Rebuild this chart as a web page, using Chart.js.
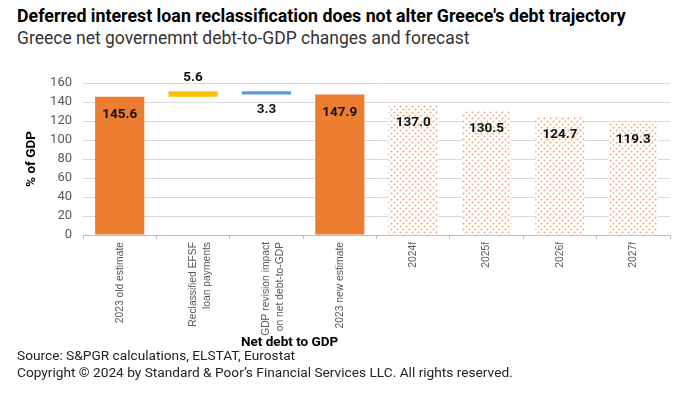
<!DOCTYPE html>
<html>
<head>
<meta charset="utf-8">
<script src="https://cdn.jsdelivr.net/npm/chart.js@4.4.1/dist/chart.umd.min.js"></script>
<style>
  body { margin: 0; background: #fff; font-family: Roboto, "Liberation Sans", sans-serif; }
  #wrap { position: relative; width: 685px; height: 399px; }
  .title { position: absolute; left: 17px; top: 5px; font-size: 17.8px; font-weight: bold; color: #000; white-space: nowrap; }
  .sub { position: absolute; left: 17px; top: 28px; font-size: 17.5px; color: #333; white-space: nowrap; }
  .foot { position: absolute; left: 17px; font-size: 13.7px; color: #222; white-space: nowrap; }
  .xtitle { position: absolute; left: 241px; top: 333px; font-size: 13.5px; font-weight: bold; color: #000; white-space: nowrap; }
  #box { position: absolute; left: 0; top: 60px; width: 685px; height: 287px; }
</style>
</head>
<body>
<div id="wrap">
  <div class="title">Deferred interest loan reclassification does not alter Greece's debt trajectory</div>
  <div class="sub">Greece net governemnt debt-to-GDP changes and forecast</div>
  <div id="box"><canvas id="debtChart"></canvas></div>
  <div class="xtitle">Net debt to GDP</div>
  <div class="foot" style="top:347px">Source: S&amp;PGR calculations, ELSTAT, Eurostat</div>
  <div class="foot" style="top:364px">Copyright © 2024 by Standard &amp; Poor’s Financial Services LLC. All rights reserved.</div>
</div>
<script>
const categories = [
  "2023 old estimate",
  ["Reclassified EFSF", "loan payments"],
  ["GDP revision impact", "on net debt-to-GDP"],
  "2023 new estimate",
  "2024f", "2025f", "2026f", "2027f"
];
// totals are full bars, steps are changes stacked on the running total
const kinds = ["total", "step", "step", "total", "total", "total", "total", "total"];
const values = [145.6, 5.6, -3.3, 147.9, 137.0, 130.5, 124.7, 119.3];
const yTicks = [0, 20, 40, 60, 80, 100, 120, 140, 160];

document.addEventListener("DOMContentLoaded", function () {
  const ctx = document.getElementById("debtChart").getContext("2d");

  // dotted fill for the forecast years
  const pc = document.createElement("canvas");
  pc.width = 6; pc.height = 6;
  const p = pc.getContext("2d");
  p.fillStyle = "#fff";
  p.fillRect(0, 0, 6, 6);
  p.fillStyle = "#F2A878";
  p.beginPath(); p.arc(1.5, 1.5, 1, 0, Math.PI * 2); p.fill();
  p.beginPath(); p.arc(4.5, 4.5, 1, 0, Math.PI * 2); p.fill();
  const dots = ctx.createPattern(pc, "repeat");

  let running = 0;
  const bars = values.map(function (v, i) {
    if (kinds[i] === "total") { running = v; return [0, v]; }
    const from = running;
    running = running + v;
    return [Math.min(from, running), Math.max(from, running)];
  });
  const colors = ["#ED7D31", "#FFC000", "#5B9BD5", "#ED7D31", dots, dots, dots, dots];

  const valueLabels = {
    id: "valueLabels",
    afterDatasetsDraw(chart) {
      const c = chart.ctx;
      const meta = chart.getDatasetMeta(0);
      c.save();
      c.font = "bold 13.5px Roboto, 'Liberation Sans', sans-serif";
      c.fillStyle = "#111";
      c.textAlign = "center";
      c.textBaseline = "middle";
      meta.data.forEach(function (bar, i) {
        const v = values[i];
        const txt = Math.abs(v).toFixed(1);
        let y;
        if (kinds[i] === "total") y = bar.y + 18;
        else if (v > 0) y = bar.y - 14;
        else y = bar.base + 15;
        c.fillText(txt, bar.x, y);
      });
      c.restore();
    }
  };

  new Chart(ctx, {
    type: "bar",
    data: {
      labels: categories,
      datasets: [{
        data: bars,
        backgroundColor: colors,
        borderWidth: 0,
        categoryPercentage: 1,
        barPercentage: 0.67,
      }],
    },
    options: {
      responsive: true,
      maintainAspectRatio: false,
      animation: false,
      layout: { padding: { left: 20, right: 15, top: 23, bottom: 0 } },
      plugins: {
        legend: { display: false },
        tooltip: { enabled: false },
      },
      scales: {
        x: {
          afterFit: function (axis) { axis.height = 112; },
          grid: { display: true, drawOnChartArea: false, tickLength: 4, color: "#bfbfbf", offset: true },
          border: { color: "#bfbfbf" },
          ticks: {
            color: "#595959",
            font: { size: 10.3, lineHeight: 1.35, family: "'Liberation Sans', Arial, sans-serif" },
            minRotation: 90, maxRotation: 90,
            autoSkip: false,
          },
        },
        y: {
          min: 0, max: 160,
          afterBuildTicks: function (axis) { axis.ticks = yTicks.map(function (v) { return { value: v }; }); },
          afterFit: function (axis) { axis.width = 63; },
          grid: { color: "#d9d9d9", tickLength: 0 },
          border: { display: false },
          ticks: {
            color: "#595959",
            padding: 11,
            autoSkip: false,
            font: { size: 13, family: "Roboto, 'Liberation Sans', sans-serif" },
          },
          title: {
            display: true,
            text: "% of GDP",
            color: "#000",
            font: { size: 13.5, weight: "bold", family: "Roboto, 'Liberation Sans', sans-serif" },
            padding: { top: 4, bottom: 8 },
          },
        },
      },
    },
    plugins: [valueLabels],
  });
});
</script>
</body>
</html>
